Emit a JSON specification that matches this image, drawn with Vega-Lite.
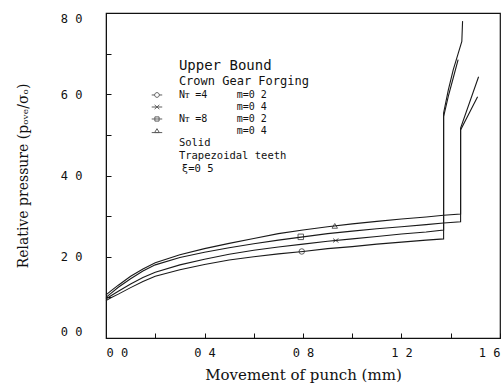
{
  "$schema": "https://vega.github.io/schema/vega-lite/v6.json",
  "width": 394,
  "height": 325,
  "autosize": {"type": "none"},
  "padding": {"left": 106, "top": 13, "right": 3, "bottom": 46},
  "background": "white",
  "config": {
    "view": {"stroke": "#111", "strokeWidth": 1.2},
    "axis": {
      "domainColor": "#111",
      "tickColor": "#111",
      "grid": false,
      "labelFont": "DejaVu Sans Mono",
      "labelFontSize": 12,
      "labelColor": "#111",
      "titleFont": "DejaVu Serif",
      "titleFontWeight": "normal",
      "titleColor": "#111",
      "tickSize": -5,
      "labelFlush": true
    }
  },
  "datasets": {
    "curves": [
      {"s":"t","o":1,"x":0,"y":1.06},{"s":"t","o":2,"x":0.02,"y":1.16},{"s":"t","o":3,"x":0.05,"y":1.3},{"s":"t","o":4,"x":0.1,"y":1.52},{"s":"t","o":5,"x":0.15,"y":1.7},{"s":"t","o":6,"x":0.2,"y":1.85},{"s":"t","o":7,"x":0.3,"y":2.05},{"s":"t","o":8,"x":0.4,"y":2.2},{"s":"t","o":9,"x":0.5,"y":2.33},{"s":"t","o":10,"x":0.6,"y":2.45},{"s":"t","o":11,"x":0.7,"y":2.57},{"s":"t","o":12,"x":0.8,"y":2.66},{"s":"t","o":13,"x":0.9,"y":2.74},{"s":"t","o":14,"x":1.0,"y":2.81},{"s":"t","o":15,"x":1.1,"y":2.87},{"s":"t","o":16,"x":1.2,"y":2.93},{"s":"t","o":17,"x":1.3,"y":2.98},{"s":"t","o":18,"x":1.371,"y":3.02},{"s":"t","o":19,"x":1.44,"y":3.05},{"s":"t","o":20,"x":1.44,"y":5.17},{"s":"t","o":21,"x":1.513,"y":6.43},
      {"s":"s","o":1,"x":0,"y":1.0},{"s":"s","o":2,"x":0.02,"y":1.1},{"s":"s","o":3,"x":0.05,"y":1.25},{"s":"s","o":4,"x":0.1,"y":1.46},{"s":"s","o":5,"x":0.15,"y":1.65},{"s":"s","o":6,"x":0.2,"y":1.8},{"s":"s","o":7,"x":0.3,"y":1.98},{"s":"s","o":8,"x":0.4,"y":2.11},{"s":"s","o":9,"x":0.5,"y":2.22},{"s":"s","o":10,"x":0.6,"y":2.32},{"s":"s","o":11,"x":0.7,"y":2.41},{"s":"s","o":12,"x":0.8,"y":2.49},{"s":"s","o":13,"x":0.9,"y":2.57},{"s":"s","o":14,"x":1.0,"y":2.63},{"s":"s","o":15,"x":1.1,"y":2.69},{"s":"s","o":16,"x":1.2,"y":2.74},{"s":"s","o":17,"x":1.3,"y":2.79},{"s":"s","o":18,"x":1.371,"y":2.83},{"s":"s","o":19,"x":1.44,"y":2.86},{"s":"s","o":20,"x":1.44,"y":5.12},{"s":"s","o":21,"x":1.509,"y":5.94},
      {"s":"x","o":1,"x":0,"y":0.96},{"s":"x","o":2,"x":0.02,"y":1.04},{"s":"x","o":3,"x":0.05,"y":1.15},{"s":"x","o":4,"x":0.1,"y":1.33},{"s":"x","o":5,"x":0.15,"y":1.49},{"s":"x","o":6,"x":0.2,"y":1.62},{"s":"x","o":7,"x":0.3,"y":1.8},{"s":"x","o":8,"x":0.4,"y":1.94},{"s":"x","o":9,"x":0.5,"y":2.06},{"s":"x","o":10,"x":0.6,"y":2.16},{"s":"x","o":11,"x":0.7,"y":2.24},{"s":"x","o":12,"x":0.8,"y":2.31},{"s":"x","o":13,"x":0.9,"y":2.38},{"s":"x","o":14,"x":1.0,"y":2.44},{"s":"x","o":15,"x":1.1,"y":2.5},{"s":"x","o":16,"x":1.2,"y":2.56},{"s":"x","o":17,"x":1.3,"y":2.61},{"s":"x","o":18,"x":1.371,"y":2.66},{"s":"x","o":19,"x":1.371,"y":5.54},{"s":"x","o":20,"x":1.39,"y":6.1},{"s":"x","o":21,"x":1.41,"y":6.6},{"s":"x","o":22,"x":1.43,"y":7.0},{"s":"x","o":23,"x":1.445,"y":7.3},{"s":"x","o":24,"x":1.448,"y":7.8},
      {"s":"c","o":1,"x":0,"y":0.92},{"s":"c","o":2,"x":0.02,"y":0.99},{"s":"c","o":3,"x":0.05,"y":1.08},{"s":"c","o":4,"x":0.1,"y":1.24},{"s":"c","o":5,"x":0.15,"y":1.39},{"s":"c","o":6,"x":0.2,"y":1.52},{"s":"c","o":7,"x":0.3,"y":1.68},{"s":"c","o":8,"x":0.4,"y":1.81},{"s":"c","o":9,"x":0.5,"y":1.92},{"s":"c","o":10,"x":0.6,"y":2.0},{"s":"c","o":11,"x":0.7,"y":2.07},{"s":"c","o":12,"x":0.8,"y":2.13},{"s":"c","o":13,"x":0.9,"y":2.2},{"s":"c","o":14,"x":1.0,"y":2.25},{"s":"c","o":15,"x":1.1,"y":2.31},{"s":"c","o":16,"x":1.2,"y":2.36},{"s":"c","o":17,"x":1.3,"y":2.41},{"s":"c","o":18,"x":1.371,"y":2.44},{"s":"c","o":19,"x":1.371,"y":5.45},{"s":"c","o":20,"x":1.39,"y":5.95},{"s":"c","o":21,"x":1.41,"y":6.4},{"s":"c","o":22,"x":1.43,"y":6.85}
    ],
    "markers": [
      {"m":"t","x":0.929,"y":2.76},
      {"m":"s","x":0.791,"y":2.49},
      {"m":"x","x":0.933,"y":2.4},
      {"m":"c","x":0.795,"y":2.13}
    ],
    "legsym": [
      {"m":"Lc","x":0.207,"y":5.982},
      {"m":"Lx","x":0.207,"y":5.686},
      {"m":"Ls","x":0.207,"y":5.391},
      {"m":"Lt","x":0.207,"y":5.095}
    ],
    "title": [
      {"label":"Upper Bound","x":0.296,"y":6.695}
    ],
    "notes12": [
      {"label":"Crown Gear Forging","x":0.296,"y":6.314}
    ],
    "notes10": [
      {"label":"Nᴛ =4","x":0.296,"y":5.982},
      {"label":"m=0 2","x":0.531,"y":5.982},
      {"label":"m=0 4","x":0.531,"y":5.686},
      {"label":"Nᴛ =8","x":0.296,"y":5.391},
      {"label":"m=0 2","x":0.531,"y":5.391},
      {"label":"m=0 4","x":0.531,"y":5.095}
    ],
    "notes105": [
      {"label":"Solid","x":0.296,"y":4.788},
      {"label":"Trapezoidal teeth","x":0.296,"y":4.48},
      {"label":"ξ=0 5","x":0.308,"y":4.172}
    ]
  },
  "layer": [
    {
      "data": {"name": "curves"},
      "mark": {"type": "line", "color": "#1a1a1a", "strokeWidth": 1.1, "interpolate": "linear"},
      "encoding": {
        "x": {
          "field": "x", "type": "quantitative",
          "scale": {"domain": [0, 1.6], "nice": false, "zero": false},
          "axis": {
            "title": "Movement of punch (mm)",
            "titleFontSize": 15,
            "values": [0, 0.2, 0.4, 0.6, 0.8, 1.0, 1.2, 1.4, 1.6],
            "labelExpr": "round(datum.value*10) % 4 == 0 ? replace(format(datum.value, '.1f'), '.', ' ') : ''",
            "labelPadding": 14,
            "titlePadding": 9
          }
        },
        "y": {
          "field": "y", "type": "quantitative",
          "scale": {"domain": [0, 8], "nice": false},
          "axis": {
            "title": "Relative pressure (pₒᵥₑ/σₒ)",
            "titleFontSize": 14,
            "values": [0, 1, 2, 3, 4, 5, 6, 7, 8],
            "labelExpr": "datum.value % 2 == 0 ? replace(format(datum.value, '.1f'), '.', ' ') : ''",
            "labelPadding": 29,
            "titlePadding": 30
          }
        },
        "detail": {"field": "s"},
        "order": {"field": "o", "type": "quantitative"}
      }
    },
    {
      "data": {"name": "markers"},
      "mark": {"type": "point", "filled": false, "stroke": "#1a1a1a", "strokeWidth": 1, "size": 30},
      "encoding": {
        "x": {"field": "x", "type": "quantitative"},
        "y": {"field": "y", "type": "quantitative"},
        "shape": {
          "field": "m", "type": "nominal", "legend": null,
          "scale": {
            "domain": ["c", "x", "s", "t", "Lc", "Lx", "Ls", "Lt"],
            "range": [
              "circle",
              "M-1,-0.7L1,0.7M1,-0.7L-1,0.7",
              "square",
              "triangle-up",
              "M-1,0L-0.45,0M0.45,0A0.45,0.45 0 1,1 -0.45,0A0.45,0.45 0 1,1 0.45,0L1,0",
              "M-1,0L1,0M-0.45,-0.4L0.45,0.4M0.45,-0.4L-0.45,0.4",
              "M-1,0L1,0M-0.4,-0.4L0.4,-0.4L0.4,0.4L-0.4,0.4Z",
              "M-1,0.3L1,0.3M-0.45,0.3L0,-0.45L0.45,0.3Z"
            ]
          }
        }
      }
    },
    {
      "data": {"name": "legsym"},
      "mark": {"type": "point", "filled": false, "stroke": "#1a1a1a", "strokeWidth": 1, "size": 110},
      "encoding": {
        "x": {"field": "x", "type": "quantitative"},
        "y": {"field": "y", "type": "quantitative"},
        "shape": {"field": "m", "type": "nominal", "legend": null}
      }
    },
    {
      "data": {"name": "title"},
      "mark": {"type": "text", "font": "DejaVu Sans Mono", "fontSize": 14, "align": "left", "baseline": "middle", "color": "#111"},
      "encoding": {
        "x": {"field": "x", "type": "quantitative"},
        "y": {"field": "y", "type": "quantitative"},
        "text": {"field": "label"}
      }
    },
    {
      "data": {"name": "notes12"},
      "mark": {"type": "text", "font": "DejaVu Sans Mono", "fontSize": 12, "align": "left", "baseline": "middle", "color": "#111"},
      "encoding": {
        "x": {"field": "x", "type": "quantitative"},
        "y": {"field": "y", "type": "quantitative"},
        "text": {"field": "label"}
      }
    },
    {
      "data": {"name": "notes10"},
      "mark": {"type": "text", "font": "DejaVu Sans Mono", "fontSize": 10, "align": "left", "baseline": "middle", "color": "#111"},
      "encoding": {
        "x": {"field": "x", "type": "quantitative"},
        "y": {"field": "y", "type": "quantitative"},
        "text": {"field": "label"}
      }
    },
    {
      "data": {"name": "notes105"},
      "mark": {"type": "text", "font": "DejaVu Sans Mono", "fontSize": 10.5, "align": "left", "baseline": "middle", "color": "#111"},
      "encoding": {
        "x": {"field": "x", "type": "quantitative"},
        "y": {"field": "y", "type": "quantitative"},
        "text": {"field": "label"}
      }
    }
  ]
}
